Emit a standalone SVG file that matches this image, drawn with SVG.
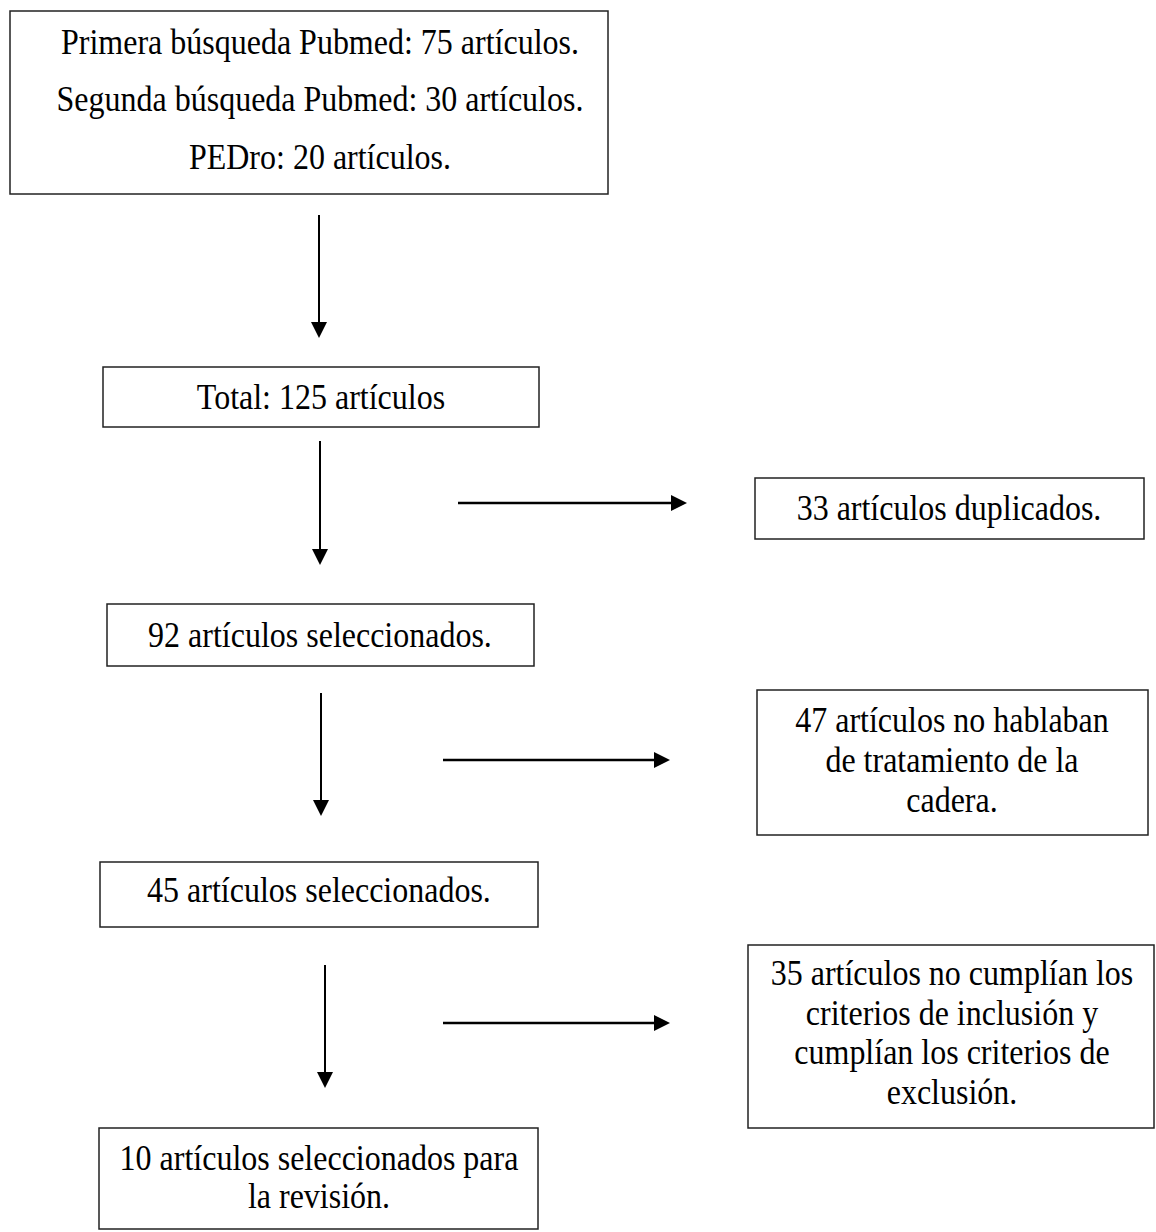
<svg xmlns="http://www.w3.org/2000/svg" width="1156" height="1232" viewBox="0 0 1156 1232">
<style>
.box{fill:#fff;stroke:#222;stroke-width:1.5}
.t{font-family:"Liberation Serif","Times New Roman",serif;font-size:32px;fill:#000;text-anchor:middle}
.c{stroke:#000;stroke-width:2;fill:none}
.h{stroke-width:2.6}
</style>
<defs>
<marker id="ah" markerUnits="userSpaceOnUse" markerWidth="18" markerHeight="18" refX="0" refY="8" orient="auto">
<path d="M0,0 L16,8 L0,16 z" fill="#000"/>
</marker>
</defs>
<rect width="1156" height="1232" fill="#fff"/>
<g id="connectors">
<line class="c" x1="319" y1="215" x2="319" y2="322" marker-end="url(#ah)"/>
<line class="c" x1="320" y1="441" x2="320" y2="549" marker-end="url(#ah)"/>
<line class="c" x1="321" y1="693" x2="321" y2="800" marker-end="url(#ah)"/>
<line class="c" x1="325" y1="965" x2="325" y2="1072" marker-end="url(#ah)"/>
<line class="c h" x1="458" y1="503" x2="671" y2="503" marker-end="url(#ah)"/>
<line class="c h" x1="443" y1="760" x2="654" y2="760" marker-end="url(#ah)"/>
<line class="c h" x1="443" y1="1023" x2="654" y2="1023" marker-end="url(#ah)"/>
</g>
<g id="n-busquedas">
<rect class="box" x="10" y="11" width="598" height="183"/>
<text class="t" x="320" y="0" transform="matrix(1 0 0 1.1 0 54)">Primera búsqueda Pubmed: 75 artículos.</text>
<text class="t" x="320" y="0" transform="matrix(1 0 0 1.1 0 111)">Segunda búsqueda Pubmed: 30 artículos.</text>
<text class="t" x="320" y="0" transform="matrix(1 0 0 1.1 0 169)">PEDro: 20 artículos.</text>
</g>
<g id="n-total">
<rect class="box" x="103" y="367" width="436" height="60"/>
<text class="t" x="321" y="0" transform="matrix(1 0 0 1.1 0 409)">Total: 125 artículos</text>
</g>
<g id="n-duplicados">
<rect class="box" x="755" y="478" width="389" height="61"/>
<text class="t" x="949" y="0" transform="matrix(1 0 0 1.1 0 520)">33 artículos duplicados.</text>
</g>
<g id="n-92">
<rect class="box" x="107" y="604" width="427" height="62"/>
<text class="t" x="320" y="0" transform="matrix(1 0 0 1.1 0 647)">92 artículos seleccionados.</text>
</g>
<g id="n-47">
<rect class="box" x="757" y="690" width="391" height="145"/>
<text class="t" x="952" y="0" transform="matrix(1 0 0 1.1 0 732)">47 artículos no hablaban</text>
<text class="t" x="952" y="0" transform="matrix(1 0 0 1.1 0 772)">de tratamiento de la</text>
<text class="t" x="952" y="0" transform="matrix(1 0 0 1.1 0 812)">cadera.</text>
</g>
<g id="n-45">
<rect class="box" x="100" y="862" width="438" height="65"/>
<text class="t" x="319" y="0" transform="matrix(1 0 0 1.1 0 902)">45 artículos seleccionados.</text>
</g>
<g id="n-35">
<rect class="box" x="748" y="945" width="406" height="183"/>
<text class="t" x="952" y="0" transform="matrix(1 0 0 1.1 0 985)">35 artículos no cumplían los</text>
<text class="t" x="952" y="0" transform="matrix(1 0 0 1.1 0 1025)">criterios de inclusión y</text>
<text class="t" x="952" y="0" transform="matrix(1 0 0 1.1 0 1064)">cumplían los criterios de</text>
<text class="t" x="952" y="0" transform="matrix(1 0 0 1.1 0 1104)">exclusión.</text>
</g>
<g id="n-10">
<rect class="box" x="99" y="1128" width="439" height="101"/>
<text class="t" x="319" y="0" transform="matrix(1 0 0 1.1 0 1170)">10 artículos seleccionados para</text>
<text class="t" x="319" y="0" transform="matrix(1 0 0 1.1 0 1208)">la revisión.</text>
</g>
</svg>
